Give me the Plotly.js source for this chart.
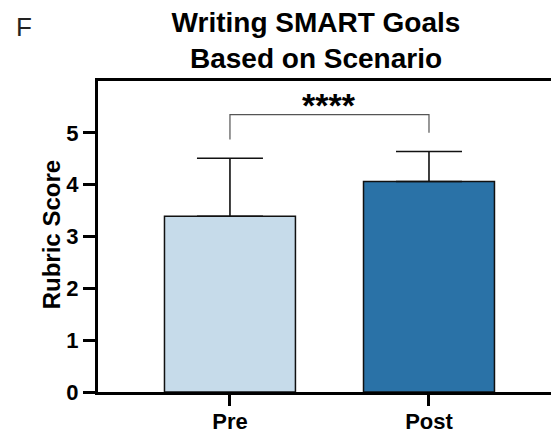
<!DOCTYPE html>
<html>
<head>
<meta charset="utf-8">
<script src="https://cdn.plot.ly/plotly-3.0.1.min.js"></script>
<style>
  html, body { margin: 0; padding: 0; background: #fff; overflow: hidden; }
  #chart { width: 551px; height: 434px; }
</style>
</head>
<body>
<div id="chart"></div>
<script>
// ---- data ----
const categories = ['Pre', 'Post'];
const meanScores = [3.39, 4.06];
const sdUpper = [1.12, 0.58];
const barColors = ['#c6dbea', '#2a72a7'];
const yTickValues = [0, 1, 2, 3, 4, 5];
const yTickLabels = ['0', '1', '2', '3', '4', '5'];
const bracketX = [0, 0, 1, 1];
const bracketY = [4.87, 5.35, 5.35, 5.0];
const significanceLabel = '****';
const significanceY = 5.53;

const FONT = 'Liberation Sans, Arial, Helvetica, sans-serif';

const bars = {
  type: 'bar',
  x: [0, 1],
  y: meanScores,
  width: 0.658,
  marker: { color: barColors, line: { color: '#111', width: 1.5 } },
  error_y: {
    type: 'data', symmetric: false, array: sdUpper, arrayminus: [0, 0],
    color: '#111', thickness: 1.6, width: 33
  },
  hoverinfo: 'skip',
  showlegend: false
};

const bracket = {
  type: 'scatter', mode: 'lines',
  x: bracketX, y: bracketY,
  line: { color: '#555', width: 1.2 },
  hoverinfo: 'skip', showlegend: false, cliponaxis: false
};

const layout = {
  width: 551, height: 434,
  margin: { l: 98, r: 0, t: 81, b: 42, pad: 0 },
  paper_bgcolor: '#fff', plot_bgcolor: '#fff',
  font: { family: FONT, color: '#000' },
  title: {
    text: '<b>Writing SMART Goals<br>Based on Scenario</b>',
    font: { family: FONT, size: 28, color: '#000' },
    x: 316 / 551, xanchor: 'center', xref: 'container',
    y: 1 - 32 / 434, yanchor: 'top', yref: 'container'
  },
  xaxis: {
    range: [-0.663, 1.613],
    tickmode: 'array', tickvals: [0, 1], ticktext: categories.map(c => '<b>' + c + '</b>'),
    tickfont: { family: FONT, size: 22, color: '#000' },
    ticks: 'outside', ticklen: 11, tickwidth: 3, tickcolor: '#000',
    ticklabelstandoff: -3,
    showline: true, linecolor: '#000', linewidth: 3, mirror: true,
    showgrid: false, zeroline: false, fixedrange: true
  },
  yaxis: {
    range: [0, 6],
    tickmode: 'array', tickvals: yTickValues, ticktext: yTickLabels.map(t => '<b>' + t + '</b>'),
    tickfont: { family: FONT, size: 22, color: '#000' },
    ticks: 'outside', ticklen: 12, tickwidth: 3, tickcolor: '#000',
    showline: true, linecolor: '#000', linewidth: 3, mirror: false,
    showgrid: false, zeroline: false, fixedrange: true
  },
  annotations: [
    {
      text: '<b>Rubric Score</b>', textangle: -90,
      xref: 'paper', yref: 'paper', x: (51 - 98) / 453, y: (391.7 - 235) / 311,
      xanchor: 'center', yanchor: 'middle', showarrow: false,
      font: { family: FONT, size: 24, color: '#000' }
    },
    {
      text: '<b>' + significanceLabel + '</b>',
      xref: 'x', yref: 'y', x: 0.5, y: significanceY,
      xanchor: 'center', yanchor: 'middle', showarrow: false,
      font: { family: FONT, size: 34, color: '#000' }
    },
    {
      text: 'F',
      xref: 'paper', yref: 'paper', x: -98 / 453 + 14 / 453, xanchor: 'left',
      y: (434 - 42 - 10) / 311, yanchor: 'top', showarrow: false,
      font: { family: FONT, size: 26, color: '#222' }
    }
  ]
};

Plotly.newPlot('chart', [bars, bracket], layout, { displayModeBar: false, staticPlot: true });
</script>
</body>
</html>
